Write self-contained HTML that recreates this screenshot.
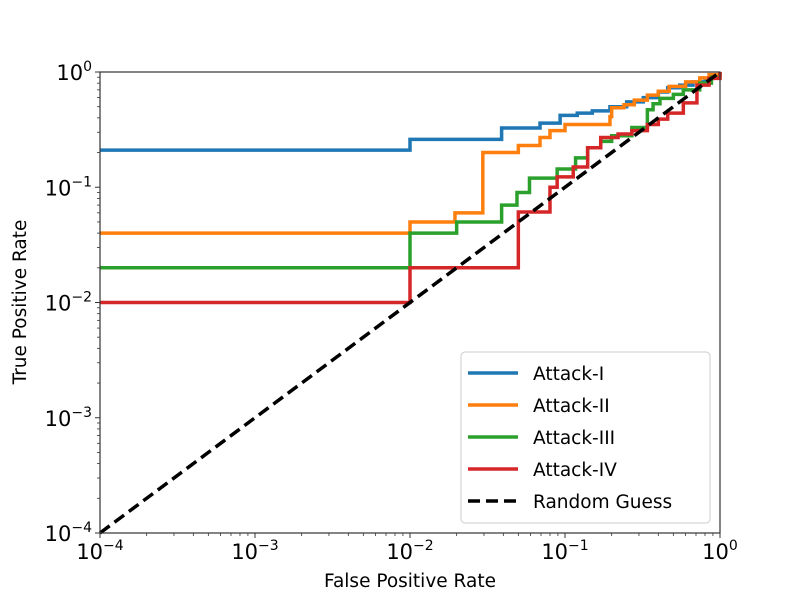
<!DOCTYPE html>
<html><head><meta charset="utf-8"><style>
body{margin:0;background:#fff;}
text{font-family:"DejaVu Sans","Liberation Sans",sans-serif;}
</style></head><body>
<svg id="chart" width="800" height="600" xmlns="http://www.w3.org/2000/svg"></svg>
<script>
const xTickExp = [-4,-3,-2,-1,0];
const yTickExp = [-4,-3,-2,-1,0];
const seriesNames = ["Attack-I","Attack-II","Attack-III","Attack-IV"];
const seriesColors = ["#1f77b4","#ff7f0e","#2ca02c","#d62728"];
const fprA1 = [0.0001,0.01,0.039,0.069,0.093,0.12,0.15,0.195,0.25,0.32,0.4,0.46,0.55,0.67,0.8,0.9,1];
const tprA1 = [0.21,0.26,0.327,0.36,0.42,0.44,0.46,0.5,0.55,0.6,0.67,0.73,0.77,0.82,0.88,0.94,1];
const fprA2 = [0.0001,0.01,0.0195,0.0295,0.05,0.069,0.08,0.1,0.195,0.2,0.24,0.28,0.34,0.4,0.47,0.6,0.74,0.85,1];
const tprA2 = [0.04,0.05,0.06,0.2,0.23,0.27,0.31,0.35,0.41,0.49,0.52,0.57,0.63,0.68,0.75,0.82,0.89,0.95,1];
const fprA3 = [0.0001,0.01,0.02,0.039,0.049,0.059,0.089,0.117,0.14,0.17,0.2,0.27,0.34,0.37,0.41,0.5,0.58,0.74,0.88,1];
const tprA3 = [0.02,0.04,0.05,0.07,0.09,0.12,0.144,0.18,0.22,0.25,0.28,0.33,0.47,0.53,0.59,0.64,0.7,0.8,0.9,1];
const fprA4 = [0.0001,0.01,0.05,0.08,0.089,0.113,0.14,0.17,0.22,0.27,0.34,0.4,0.46,0.58,0.71,0.85,1];
const tprA4 = [0.01,0.02,0.061,0.1,0.123,0.15,0.22,0.27,0.29,0.31,0.35,0.39,0.44,0.54,0.77,0.88,1];
const fprs=[fprA1,fprA2,fprA3,fprA4], tprs=[tprA1,tprA2,tprA3,tprA4];

const L=100,R=720,T=72,B=533;
const X=v=>L+(Math.log10(v)+4)/4*(R-L);
const Y=v=>B-(Math.log10(v)+4)/4*(B-T);
const svg=document.getElementById('chart');
const NS="http://www.w3.org/2000/svg";
function mk(tag,attrs,parent){const e=document.createElementNS(NS,tag);for(const k in attrs)e.setAttribute(k,attrs[k]);(parent||svg).appendChild(e);return e;}

fprs.forEach((f,i)=>{
  let d=`M${X(f[0])},${Y(tprs[i][0])}`;
  for(let j=1;j<f.length;j++){d+=` H${X(f[j])} V${Y(tprs[i][j])}`;}
  const p=mk('path',{d:d,fill:'none',stroke:seriesColors[i],'stroke-width':3.5,'stroke-linejoin':'miter'});
  
  
});
const diag=mk('line',{x1:X(1e-4),y1:Y(1e-4),x2:X(1),y2:Y(1),stroke:'#000','stroke-width':3.5,'stroke-dasharray':'12,6'});



const fr=mk('rect',{x:L,y:T,width:R-L,height:B-T,fill:'none',stroke:'#333','stroke-width':1.2});



xTickExp.forEach((e,k)=>{
  const x=X(Math.pow(10,e));
  mk('line',{x1:x,y1:B,x2:x,y2:B+5,stroke:'#333','stroke-width':1});
  const t=mk('text',{x:x,y:B+26,'font-size':21,'text-anchor':'middle'});
  
  
  t.innerHTML=`10<tspan dy="-9" font-size="14">${e===0?'0':'−'+(-e)}</tspan>`;
  if(k<xTickExp.length-1){for(let m=2;m<10;m++){const xm=X(m*Math.pow(10,e));mk('line',{x1:xm,y1:B,x2:xm,y2:B+3,stroke:'#333','stroke-width':0.8});}}
});
yTickExp.forEach((e,k)=>{
  const y=Y(Math.pow(10,e));
  mk('line',{x1:L,y1:y,x2:L-5,y2:y,stroke:'#333','stroke-width':1});
  const t=mk('text',{x:L-8,y:y+8,'font-size':21,'text-anchor':'end'});
  
  
  t.innerHTML=`10<tspan dy="-9" font-size="14">${e===0?'0':'−'+(-e)}</tspan>`;
  if(k<yTickExp.length-1){for(let m=2;m<10;m++){const ym=Y(m*Math.pow(10,e));mk('line',{x1:L,y1:ym,x2:L-3,y2:ym,stroke:'#333','stroke-width':0.8});}}
});
const xl=mk('text',{x:410,y:587,'font-size':18.5,'text-anchor':'middle'});xl.textContent='False Positive Rate';


const yl=mk('text',{x:26,y:302,'font-size':18.5,'text-anchor':'middle',transform:'rotate(-90 26 302)'});yl.textContent='True Positive Rate';



const lg=mk('g',{});


mk('rect',{x:461,y:352,width:249,height:171,rx:4,fill:'#fff',stroke:'#ccc','stroke-width':1},lg);
const names=seriesNames.concat(['Random Guess']);
names.forEach((n,i)=>{
  const y=373+i*32;
  const g=mk('g',{},lg);
  
  
  const attrs={x1:468,y1:y,x2:518,y2:y,stroke:i<4?seriesColors[i]:'#000','stroke-width':3.5};
  if(i===4)attrs['stroke-dasharray']='12,6';
  mk('line',attrs,g);
  const t=mk('text',{x:533,y:y+7,'font-size':18.5},g);t.textContent=n;
});
</script>
</body></html>
